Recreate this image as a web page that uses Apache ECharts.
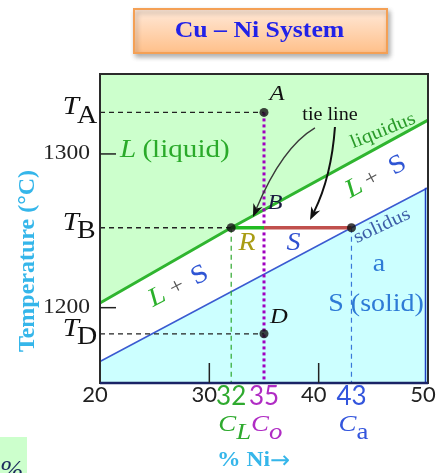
<!DOCTYPE html>
<html><head><meta charset="utf-8">
<script src="https://cdn.jsdelivr.net/npm/echarts@6/dist/echarts.min.js"></script>
<style>html,body{margin:0;padding:0;background:#fff}#c{width:442px;height:473px}</style>
</head><body><div id="c"></div>
<script>
// ---- data ----
const liquidusNi = [20, 32, 50];
const liquidusT = [1203, 1252, 1322];
const solidusNi = [20, 43, 50];
const solidusT = [1165, 1252, 1278];
const compL = 32, comp0 = 35, compA = 43;
const tempA = 1327, tempB = 1252, tempD = 1183;
const xTickValues = [20, 30, 40, 50];
const xTickLabels = ['20', '30', '40', '50'];
const yTickValues = [1300, 1200];
const yTickLabels = ['1300', '1200'];
const tempMarks = [tempA, tempB, tempD];
const tempSubs = ['A', 'B', 'D'];
const compMarks = [compL, comp0, compA];
const compLabels = ['32', '35', '43'];
const compSubs = ['L', 'o', 'a'];
const innerTicksX = [30, 40];
const xMin = 20, xMax = 50, yMin = 1151, yMax = 1352;

// ---- styles ----
const SERIF = "'Liberation Serif','Times New Roman',serif";
const SANS = "Lato,'Liberation Sans',sans-serif";
const SX = 1.12;
const compColors = ['#2faa2f', '#b02cc4', '#3355dd'];

const pair = (xs, ys) => xs.map((x, i) => [x, ys[i]]);
const guide = (data, color, width, type, z) => ({
  type: 'line', data, symbol: 'none', silent: true, z: z || 4,
  lineStyle: { color, width, type }
});
const T = (text, x, y, font, fill, align, va, extra) => Object.assign({
  type: 'text', x, y, scaleX: SX,
  style: { text, font, fill, align: align || 'center', verticalAlign: va || 'middle' }
}, extra || {});

// annotations: [text, dx, dy, font, color, align]
const notes = [
  { at: [36.19, 1339.0], rot: 0, parts: [['A', 0, 0, 'italic 22px', '#111']] },
  { at: [36.0, 1267.8], rot: 0, parts: [['B', 0, 0, 'italic 22px', '#1a1a40']] },
  { at: [36.37, 1193.9], rot: 0, parts: [['D', 0, 0, 'italic 22px', '#111']] },
  { at: [33.45, 1242], rot: 0, parts: [['R', 0, 0, 'italic 25px', '#a99c14']] },
  { at: [37.7, 1242], rot: 0, parts: [['S', 0, 0, 'italic 25px', '#3050d0']] },
  { at: [21.83, 1302.5], rot: 0, parts: [['L', 0, 0, 'italic 26px', '#2aaa2a', 'left'], ['(liquid)', 20, 0, '26px', '#2aaa2a', 'left']] },
  { at: [44.88, 1283.7], rot: 28, parts: [['L', -18, 0, 'italic 26px', '#2bb02b'], ['+', 0, 0, '22px', '#555'], ['S', 26, 0, '26px', '#2f55d4']] },
  { at: [27.04, 1213.4], rot: 27, parts: [['L', -20, 0, 'italic 26px', '#2bb02b'], ['+', 0, 0, '22px', '#555'], ['S', 23, 0, '26px', '#2f55d4']] },
  { at: [45.88, 1315], rot: 22, parts: [['liquidus', 0, 0, '19px', '#2a9a2a']] },
  { at: [45.79, 1253.1], rot: 25, parts: [['solidus', 0, 0, '19px', '#3d5fa8']] },
  { at: [45.52, 1228.4], rot: 0, parts: [['a', 0, 0, '25px', '#2e7bd6']] },
  { at: [45.25, 1202], rot: 0, parts: [['S (solid)', 0, 0, '25px', '#2e7bd6']] },
  { at: [41.04, 1325.3], rot: 0, parts: [['tie line', 0, 0, '18px', '#111']] }
];
const arrows = [
  { start: [39.66, 1316.9], ctrl: [36.65, 1304.2], end: [33.99, 1259.0], color: '#3a3a3a', w: 1.4 },
  { start: [41.49, 1317.5], ctrl: [41.17, 1285.3], end: [39.21, 1257.0], color: '#111', w: 2 }
];

const chart = echarts.init(document.getElementById('c'), null, { renderer: 'canvas' });
chart.setOption({
  animation: false,
  backgroundColor: '#fff',
  grid: { left: 100, right: 14, top: 74, bottom: 90, show: true, backgroundColor: '#ccffcc', borderWidth: 0, containLabel: false, outerBoundsMode: 'none' },
  xAxis: { type: 'value', min: xMin, max: xMax, show: false, splitLine: { show: false } },
  yAxis: { type: 'value', min: yMin, max: yMax, show: false, splitLine: { show: false } },
  graphic: [
    { type: 'rect', left: 133, top: 8, shape: { width: 253, height: 44 }, z: 10,
      style: { fill: new echarts.graphic.LinearGradient(0, 0, 0, 1, [{ offset: 0, color: '#ffeadb' }, { offset: 1, color: '#ffbf88' }]),
        stroke: '#f4a055', lineWidth: 2, shadowBlur: 5, shadowColor: 'rgba(0,0,0,0.3)', shadowOffsetX: 2, shadowOffsetY: 3 } },
    { type: 'text', x: 259.5, y: 31, z: 11, scaleX: SX, style: { text: 'Cu – Ni System', font: 'bold 23px ' + SERIF, fill: '#2222e8', align: 'center', verticalAlign: 'middle' } },
    { type: 'text', x: 28, y: 261, rotation: Math.PI / 2, z: 11, style: { text: 'Temperature (°C)', font: 'bold 24px ' + SERIF, fill: '#35b6ea', align: 'center', verticalAlign: 'middle' } },
    { type: 'text', x: 217, y: 461, z: 11, scaleX: SX, style: { text: '% Ni', font: 'bold 21px ' + SERIF, fill: '#35b6ea', align: 'left', verticalAlign: 'middle' } },
    { type: 'text', x: 270, y: 462, z: 11, style: { text: '→', font: '24px "DejaVu Sans"', fill: '#35b6ea', align: 'left', verticalAlign: 'middle' } },
    { type: 'rect', left: 0, top: 437, shape: { width: 27, height: 36 }, z: 1, style: { fill: '#ccffcc' } },
    { type: 'text', x: 0, y: 458, z: 2, style: { text: '%', font: 'italic 28px ' + SERIF, fill: '#1c2a5c', align: 'left', verticalAlign: 'top' } }
  ],
  series: [
    { type: 'line', data: pair(liquidusNi, liquidusT), symbol: 'none', silent: true, z: 2,
      lineStyle: { color: '#2fb52f', width: 3 }, areaStyle: { color: '#ffffff', opacity: 1, origin: 'start' } },
    { type: 'line', data: pair(solidusNi, solidusT), symbol: 'none', silent: true, z: 3,
      lineStyle: { color: '#3b5bd1', width: 1.5 }, areaStyle: { color: '#ccffff', opacity: 1, origin: 'start' } },
    guide([[xMin, tempA], [comp0, tempA]], '#222', 1.3, [5, 4]),
    guide([[xMin, tempB], [compL, tempB]], '#222', 1.3, [5, 4]),
    guide([[xMin, tempD], [comp0, tempD]], '#222', 1.3, [5, 4]),
    guide([[compL, tempB], [compL, yMin]], '#2ea82e', 1.2, [5, 4]),
    guide([[compA, tempB], [compA, yMin]], '#3a78d8', 1.2, [5, 4]),
    guide([[comp0, tempA], [comp0, yMin]], '#a000c0', 3, [3, 3], 5),
    guide([[compL, tempB], [comp0, tempB]], '#22bb22', 3.5, 'solid', 6),
    guide([[comp0, tempB], [compA, tempB]], '#c0504d', 3.5, 'solid', 6),
    { type: 'scatter', data: [[comp0, tempA], [compL, tempB], [compA, tempB], [comp0, tempD]], symbolSize: 9, z: 8, silent: true,
      itemStyle: { color: '#111' } },
    // frame
    { type: 'custom', data: [[xMin, yMin]], z: 9, silent: true,
      renderItem: (p, api) => {
        const tl = api.coord([xMin, yMax]), br = api.coord([xMax, yMin]);
        const sr = api.coord([xMax, solidusT[solidusT.length - 1]]);
        return { type: 'group', children: [
          { type: 'line', shape: { x1: br[0] - 2.5, y1: sr[1], x2: br[0] - 2.5, y2: br[1] }, style: { stroke: '#1f3fc0', lineWidth: 1.5 } },
          { type: 'rect', shape: { x: tl[0], y: tl[1], width: br[0] - tl[0], height: br[1] - tl[1] }, style: { fill: 'none', stroke: '#2b2b2b', lineWidth: 2 } },
          { type: 'line', shape: { x1: tl[0], y1: br[1], x2: br[0], y2: br[1] }, style: { stroke: '#1a2466', lineWidth: 2.5 } }
        ] };
      } },
    // y ticks (inward)
    { type: 'custom', data: yTickValues.map(v => [xMin, v]), z: 9, silent: true,
      renderItem: (p, api) => {
        const c = api.coord([api.value(0), api.value(1)]);
        return { type: 'group', children: [
          { type: 'line', shape: { x1: c[0], y1: c[1], x2: c[0] + 16, y2: c[1] }, style: { stroke: '#222', lineWidth: 1.5 } },
          T(yTickLabels[p.dataIndex], c[0] - 10, c[1], '21px ' + SERIF, '#222', 'right')
        ] };
      } },
    // x inner ticks
    { type: 'custom', data: innerTicksX.map(v => [v, yMin]), z: 9, silent: true,
      renderItem: (p, api) => {
        const c = api.coord([api.value(0), api.value(1)]);
        return { type: 'line', shape: { x1: c[0], y1: c[1], x2: c[0], y2: c[1] - 20 }, style: { stroke: '#222', lineWidth: 1.5 } };
      } },
    // x tick labels
    { type: 'custom', data: xTickValues.map(v => [v, yMin]), z: 9, silent: true,
      renderItem: (p, api) => {
        const c = api.coord([api.value(0), api.value(1)]);
        return { type: 'text', x: c[0] - 5, y: c[1] + 12, style: { text: xTickLabels[p.dataIndex], font: '22px ' + SANS, fill: '#222', align: 'center', verticalAlign: 'middle' } };
      } },
    // composition labels
    { type: 'custom', data: compMarks.map(v => [v, yMin]), z: 9, silent: true,
      renderItem: (p, api) => {
        const c = api.coord([api.value(0), api.value(1)]);
        const i = p.dataIndex, col = compColors[i];
        return { type: 'group', children: [
          { type: 'text', x: c[0], y: c[1] + 14, style: { text: compLabels[i], font: '26px ' + SANS, fill: col, align: 'center', verticalAlign: 'middle' } },
          T('C', c[0] - 13, c[1] + 42, 'italic 24px ' + SERIF, col, 'left'),
          T(compSubs[i], c[0] + 5, c[1] + 50, (i < 2 ? 'italic ' : '') + '24px ' + SERIF, col, 'left')
        ] };
      } },
    // temperature labels
    { type: 'custom', data: tempMarks.map(v => [xMin, v]), z: 9, silent: true,
      renderItem: (p, api) => {
        const c = api.coord([api.value(0), api.value(1)]);
        return { type: 'group', children: [
          T('T', c[0] - 21, c[1] - 5, 'italic 26px ' + SERIF, '#111', 'right'),
          T(tempSubs[p.dataIndex], c[0] - 23, c[1] + 4, '25px ' + SERIF, '#111', 'left')
        ] };
      } },
    // annotations
    { type: 'custom', data: notes.map(n => n.at), z: 12, silent: true,
      renderItem: (p, api) => {
        const n = notes[p.dataIndex];
        const c = api.coord([api.value(0), api.value(1)]);
        return { type: 'group', x: c[0], y: c[1], rotation: n.rot * Math.PI / 180,
          children: n.parts.map(q => T(q[0], q[1] * SX, q[2], q[3] + ' ' + SERIF, q[4], q[5] || 'center')) };
      } },
    // arrows
    { type: 'custom', data: arrows.map(a => a.end), z: 12, silent: true,
      renderItem: (p, api) => {
        const a = arrows[p.dataIndex];
        const s = api.coord(a.start), k = api.coord(a.ctrl), e = api.coord(a.end);
        let dx = e[0] - k[0], dy = e[1] - k[1];
        const L = Math.hypot(dx, dy); dx /= L; dy /= L;
        const nx = -dy, ny = dx, hl = 13, hw = 5;
        const b = [e[0] - dx * hl, e[1] - dy * hl];
        const notch = [e[0] - dx * hl * 0.7, e[1] - dy * hl * 0.7];
        return { type: 'group', children: [
          { type: 'bezierCurve', shape: { x1: s[0], y1: s[1], cpx1: k[0], cpy1: k[1], x2: notch[0], y2: notch[1] }, style: { stroke: a.color, lineWidth: a.w, fill: 'none' } },
          { type: 'polygon', shape: { points: [e, [b[0] + nx * hw, b[1] + ny * hw], notch, [b[0] - nx * hw, b[1] - ny * hw]] }, style: { fill: '#111' } }
        ] };
      } }
  ]
});
</script></body></html>
